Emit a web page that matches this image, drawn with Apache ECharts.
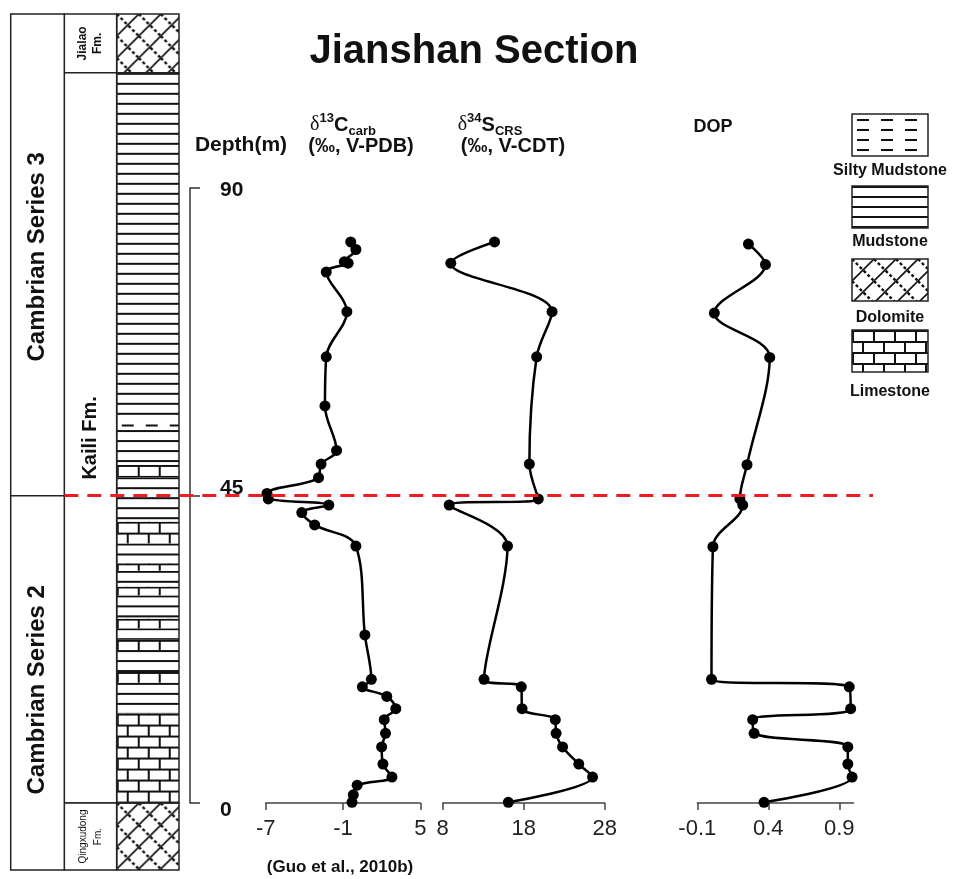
<!DOCTYPE html>
<html>
<head>
<meta charset="utf-8">
<script src="https://cdn.jsdelivr.net/npm/echarts@6.0.0/dist/echarts.min.js"></script>
<style>html,body{margin:0;padding:0;background:#fff;}#chart{width:955px;height:879px;}</style>
</head>
<body>
<div id="chart"></div>
<script>
// ---------------- data ----------------
const c13Depth = [82.1, 81.0, 79.2, 79.0, 77.7, 71.9, 65.3, 58.1, 51.6, 49.6, 47.6, 45.3, 44.5, 43.6, 42.5, 40.7, 37.6, 24.6, 18.1, 17.0, 15.6, 13.8, 12.2, 10.2, 8.2, 5.7, 3.8, 2.6, 1.2, 0.1];
const c13Value = [-0.4, 0.0, -0.9, -0.6, -2.3, -0.7, -2.3, -2.4, -1.5, -2.7, -2.9, -6.9, -6.8, -2.1, -4.2, -3.2, 0.0, 0.7, 1.2, 0.5, 2.4, 3.1, 2.2, 2.3, 2.0, 2.1, 2.8, 0.1, -0.2, -0.3];

const s34Depth = [82.1, 79.0, 71.9, 65.3, 49.6, 44.5, 43.6, 37.6, 18.1, 17.0, 13.8, 12.2, 10.2, 8.2, 5.7, 3.8, 0.1];
const s34Value = [14.4, 9.0, 21.5, 19.6, 18.7, 19.8, 8.8, 16.0, 13.1, 17.7, 17.8, 21.9, 22.0, 22.8, 24.8, 26.5, 16.1];

const dopDepth = [81.8, 78.8, 71.7, 65.2, 49.5, 44.5, 43.6, 37.5, 18.1, 17.0, 13.8, 12.2, 10.2, 8.2, 5.7, 3.8, 0.1];
const dopValue = [0.26, 0.38, 0.02, 0.41, 0.25, 0.20, 0.22, 0.01, 0.00, 0.97, 0.98, 0.29, 0.30, 0.96, 0.96, 0.99, 0.37];

const depthTicks = [0, 45, 90];
const c13Ticks = [-7, -1, 5];
const s34Ticks = [8, 18, 28];
const dopTicks = [-0.1, 0.4, 0.9];

const boundaryDepth = 45;

const unitNames = ['Cambrian Series 3', 'Cambrian Series 2'];
const unitTops = [115.5, 45];
const unitBases = [45, -9.8];

const formationNames = ['Jialao\nFm.', 'Kaili Fm.', 'Qingxudong\nFm.'];
const formationTops = [115.5, 106.9, 0];
const formationBases = [106.9, 0, -9.8];

const layerTypes = ['dolomite','limestone','mudstone','limestone','mudstone','limestone','mudstone','limestone','mudstone','limestone','mudstone','limestone','mudstone','limestone','mudstone','limestone','mudstone','silty','mudstone','dolomite'];
const layerBases = [-9.8, 0, 13.1, 17.6, 19.2, 22.4, 23.9, 25.6, 27.0, 30.4, 31.7, 34.0, 35.1, 38.0, 41.2, 47.7, 49.5, 54.6, 56.0, 106.9];
const layerTops  = [0, 13.1, 17.6, 19.2, 22.4, 23.9, 25.6, 27.0, 30.4, 31.7, 34.0, 35.1, 38.0, 41.2, 47.7, 49.5, 54.6, 56.0, 106.9, 115.5];

const legendTypes = ['silty', 'mudstone', 'dolomite', 'limestone'];
const legendNames = ['Silty Mudstone', 'Mudstone', 'Dolomite', 'Limestone'];

// ---------------- styles ----------------
const SANS = 'Liberation Sans, Arial, Helvetica, sans-serif';
const INK = '#111';

function makeTile(w, h, draw) {
  const c = document.createElement('canvas');
  c.width = w; c.height = h;
  const g = c.getContext('2d');
  g.fillStyle = '#fff'; g.fillRect(0, 0, w, h);
  g.fillStyle = INK; g.strokeStyle = INK;
  draw(g, w, h);
  return c;
}
const tiles = {
  mudstone: makeTile(8, 10, (g, w) => { g.fillRect(0, 0, w, 2); }),
  limestone: makeTile(42, 22, (g, w) => {
    g.fillRect(0, 0, w, 2); g.fillRect(0, 11, w, 2);
    g.fillRect(0, 0, 2, 11); g.fillRect(21, 0, 2, 11);
    g.fillRect(10, 11, 2, 11); g.fillRect(31, 11, 2, 11);
  }),
  dolomite: makeTile(22, 22, (g) => {
    g.lineWidth = 1.6;
    g.beginPath(); g.moveTo(-3, 25); g.lineTo(25, -3); g.stroke();
    g.setLineDash([3, 2.5]); g.lineWidth = 2.4;
    g.beginPath(); g.moveTo(0, 0); g.lineTo(22, 22); g.stroke();
  }),
  silty: makeTile(24, 10, (g) => { g.fillRect(5, 4, 12, 2); })
};
function pattern(type, x, y) {
  return { image: tiles[type], repeat: 'repeat', x: x, y: y };
}
const boxLabelStyle = {
  'Cambrian Series 3': { fontSize: 24, fontWeight: 'bold', lineHeight: 26, dy: 2 },
  'Cambrian Series 2': { fontSize: 24, fontWeight: 'bold', lineHeight: 26, dy: 7 },
  'Jialao\nFm.': { fontSize: 12, fontWeight: 'bold', lineHeight: 15, dy: 0 },
  'Kaili Fm.': { fontSize: 20, fontWeight: 'bold', lineHeight: 22, dy: 0 },
  'Qingxudong\nFm.': { fontSize: 10, fontWeight: 'normal', lineHeight: 15, dy: 0 }
};

// ---------------- render helpers ----------------
function rectOf(api) {
  const base = api.value(0), top = api.value(1);
  const p0 = api.coord([0, top]);
  const p1 = api.coord([1, base]);
  return { x: p0[0], y: p0[1], width: p1[0] - p0[0], height: p1[1] - p0[1] };
}
function renderLayer(params, api) {
  const r = rectOf(api);
  const t = layerTypes[params.dataIndex];
  return { type: 'rect', shape: r, style: { fill: pattern(t, r.x, r.y), stroke: null } };
}
function makeBoxRenderer(names, withText) {
  return function (params, api) {
    const r = rectOf(api);
    const name = names[params.dataIndex];
    const children = [{ type: 'rect', shape: r, style: { fill: withText ? '#fff' : 'none', stroke: '#222', lineWidth: 1.5 } }];
    if (withText) {
      const st = boxLabelStyle[name];
      children.push({
        type: 'text', x: r.x + r.width / 2, y: r.y + r.height / 2 + st.dy, rotation: Math.PI / 2,
        style: { text: name, fontFamily: SANS, fontSize: st.fontSize, fontWeight: st.fontWeight, lineHeight: st.lineHeight, fill: INK, align: 'center', verticalAlign: 'middle' }
      });
    }
    return { type: 'group', children: children };
  };
}

const chart = echarts.init(document.getElementById('chart'), null, { renderer: 'canvas' });

const gridBase = { top: 188, height: 615, outerBoundsMode: 'none', containLabel: false };
const xLabel = { fontFamily: SANS, fontSize: 22, color: '#222', margin: 15 };
const xLine = { show: true, onZero: false, lineStyle: { color: '#444', width: 1.5 } };
const xTick = { show: true, length: 7, lineStyle: { color: '#444', width: 1.5 } };

function xAxisFor(grid, min, max, ticks) {
  return {
    gridIndex: grid, type: 'value', min: min, max: max, position: 'bottom',
    axisLine: xLine, axisTick: Object.assign({ customValues: ticks }, xTick),
    axisLabel: Object.assign({ customValues: ticks }, xLabel),
    splitLine: { show: false }
  };
}
function hiddenY(grid, min, max) {
  return { gridIndex: grid, type: 'value', min: min, max: max, show: false, splitLine: { show: false } };
}
function hiddenX(grid) {
  return { gridIndex: grid, type: 'value', min: 0, max: 1, show: false, splitLine: { show: false } };
}
const lithoMin = unitBases[unitBases.length - 1];
const lithoMax = unitTops[0];

function lineSeries(xi, vals, deps) {
  return {
    type: 'line', xAxisIndex: xi, yAxisIndex: xi,
    data: vals.map((v, i) => [v, deps[i]]),
    smooth: 0.35, symbol: 'circle', symbolSize: 11,
    lineStyle: { color: '#000', width: 2.5 },
    itemStyle: { color: '#000' },
    clip: false, z: 5
  };
}

const option = {
  animation: false,
  backgroundColor: '#fff',
  grid: [
    Object.assign({ left: 265.7, width: 154.6 }, gridBase),
    Object.assign({ left: 442.7, width: 162 }, gridBase),
    Object.assign({ left: 697.3, width: 156.2 }, gridBase),
    { left: 116.7, width: 62.3, top: 14, height: 856, outerBoundsMode: 'none' },
    { left: 64.3, width: 52.4, top: 14, height: 856, outerBoundsMode: 'none' },
    { left: 10.7, width: 53.6, top: 14, height: 856, outerBoundsMode: 'none' }
  ],
  xAxis: [
    xAxisFor(0, -7, 5, c13Ticks),
    xAxisFor(1, 8, 28, s34Ticks),
    xAxisFor(2, -0.1, 1.0, dopTicks),
    hiddenX(3), hiddenX(4), hiddenX(5)
  ],
  yAxis: [
    {
      gridIndex: 0, type: 'value', min: 0, max: 90, position: 'left', offset: 75.7,
      axisLine: { show: true, onZero: false, lineStyle: { color: '#333', width: 1.5 } },
      axisTick: { show: true, inside: true, length: 10, customValues: depthTicks, lineStyle: { color: '#333', width: 1.5 } },
      axisLabel: {
        inside: true, margin: 30, customValues: depthTicks, fontFamily: SANS, fontWeight: 'bold', fontSize: 21, color: INK,
        formatter: v => v === 45 ? '{up|45}' : (v === 0 ? '{dn|0}' : '{n|' + v + '}'),
        rich: {
          up: { fontFamily: SANS, fontWeight: 'bold', fontSize: 21, color: INK, padding: [0, 0, 15, 0] },
          dn: { fontFamily: SANS, fontWeight: 'bold', fontSize: 21, color: INK, padding: [14, 0, 0, 0] },
          n: { fontFamily: SANS, fontWeight: 'bold', fontSize: 21, color: INK, padding: [4, 0, 0, 0] }
        }
      },
      splitLine: { show: false }
    },
    hiddenY(1, 0, 90), hiddenY(2, 0, 90),
    hiddenY(3, lithoMin, lithoMax), hiddenY(4, lithoMin, lithoMax), hiddenY(5, lithoMin, lithoMax)
  ],
  series: [
    lineSeries(0, c13Value, c13Depth),
    lineSeries(1, s34Value, s34Depth),
    lineSeries(2, dopValue, dopDepth),
    {
      type: 'custom', xAxisIndex: 3, yAxisIndex: 3, renderItem: renderLayer, clip: false,
      data: layerTops.map((t, i) => [layerBases[i], t])
    },
    {
      type: 'custom', xAxisIndex: 3, yAxisIndex: 3, renderItem: makeBoxRenderer(formationNames, false), clip: false, z: 3,
      data: formationTops.map((t, i) => [formationBases[i], t])
    },
    {
      type: 'custom', xAxisIndex: 4, yAxisIndex: 4, renderItem: makeBoxRenderer(formationNames, true), clip: false,
      data: formationTops.map((t, i) => [formationBases[i], t])
    },
    {
      type: 'custom', xAxisIndex: 5, yAxisIndex: 5, renderItem: makeBoxRenderer(unitNames, true), clip: false,
      data: unitTops.map((t, i) => [unitBases[i], t])
    }
  ]
};
chart.setOption(option);

// ---------------- annotations ----------------
const yBoundary = chart.convertToPixel({ gridIndex: 0 }, [0, boundaryDepth])[1];
const xStart = chart.convertToPixel({ gridIndex: 4 }, [0, boundaryDepth])[0];

const deltaRich = {
  d: { fontFamily: 'Liberation Serif, DejaVu Serif, serif', fontSize: 20, lineHeight: 26, fill: INK },
  sup: { fontFamily: SANS, fontWeight: 'bold', fontSize: 13, lineHeight: 14, verticalAlign: 'top', fill: INK },
  b: { fontFamily: SANS, fontWeight: 'bold', fontSize: 20, lineHeight: 26, fill: INK },
  sub: { fontFamily: SANS, fontWeight: 'bold', fontSize: 13, lineHeight: 14, verticalAlign: 'bottom', fill: INK }
};
const graphics = [
  { type: 'text', x: 474, y: 52, style: { text: 'Jianshan Section', fontFamily: SANS, fontWeight: 'bold', fontSize: 40, fill: INK, align: 'center', verticalAlign: 'middle' } },
  { type: 'text', x: 241, y: 145, style: { text: 'Depth(m)', fontFamily: SANS, fontWeight: 'bold', fontSize: 21, fill: INK, align: 'center', verticalAlign: 'middle' } },
  { type: 'text', x: 343, y: 125, style: { text: '{d|δ}{sup|13}{b|C}{sub|carb}', align: 'center', verticalAlign: 'middle', rich: deltaRich } },
  { type: 'text', x: 361, y: 146, style: { text: '(‰, V-PDB)', fontFamily: SANS, fontWeight: 'bold', fontSize: 20, fill: INK, align: 'center', verticalAlign: 'middle' } },
  { type: 'text', x: 490, y: 125, style: { text: '{d|δ}{sup|34}{b|S}{sub|CRS}', align: 'center', verticalAlign: 'middle', rich: deltaRich } },
  { type: 'text', x: 513, y: 146, style: { text: '(‰, V-CDT)', fontFamily: SANS, fontWeight: 'bold', fontSize: 20, fill: INK, align: 'center', verticalAlign: 'middle' } },
  { type: 'text', x: 713, y: 127, style: { text: 'DOP', fontFamily: SANS, fontWeight: 'bold', fontSize: 18, fill: INK, align: 'center', verticalAlign: 'middle' } },
  { type: 'text', x: 340, y: 867, style: { text: '(Guo et al., 2010b)', fontFamily: SANS, fontWeight: 'bold', fontSize: 17, fill: INK, align: 'center', verticalAlign: 'middle' } },
  { type: 'line', z: 10, shape: { x1: xStart, y1: yBoundary, x2: 873, y2: yBoundary }, style: { stroke: '#ee1c24', lineWidth: 3, lineDash: [14, 9] } }
];
const legendBoxTop = [114, 186, 259, 330];
const legendLabelY = [171, 242, 318, 392];
legendTypes.forEach((t, i) => {
  graphics.push({ type: 'rect', shape: { x: 852, y: legendBoxTop[i], width: 76, height: 42 },
    style: { fill: pattern(t, 852, legendBoxTop[i] + (t === 'silty' ? 1 : 0)), stroke: '#222', lineWidth: 1.5 } });
  graphics.push({ type: 'text', x: 890, y: legendLabelY[i], style: { text: legendNames[i], fontFamily: SANS, fontWeight: 'bold', fontSize: 16, fill: INK, align: 'center', verticalAlign: 'middle' } });
});
chart.setOption({ graphic: graphics });
</script>
</body>
</html>
